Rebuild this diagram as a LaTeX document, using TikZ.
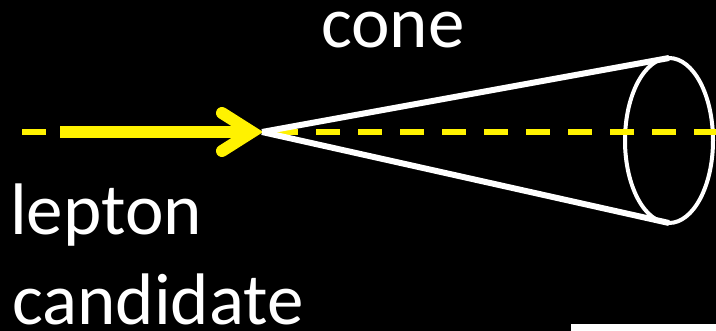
\documentclass[tikz,border=0pt]{standalone}
\usepackage{fontspec}
\setmainfont{Carlito}
\begin{document}
\begin{tikzpicture}[x=1pt,y=-1pt,
  lbl/.style={text=white,inner sep=0pt,anchor=base west,font=\fontsize{73}{89}\selectfont},
  axisline/.style={yellow,line width=6pt,dash pattern=on 24pt off 18pt},
  leptonarrow/.style={yellow,line width=12pt},
  conestroke/.style={white,line width=6pt},
  rimstroke/.style={white,line width=4pt}]
\useasboundingbox (0,0) rectangle (716,331);
\fill[black] (0,0) rectangle (716,331);
% coordinates
\coordinate (axstart) at (22,132);
\coordinate (axend) at (716,132);
\coordinate (tail) at (60,132);
\coordinate (tipin) at (252,132);
\coordinate (barbtop) at (222,113);
\coordinate (barbbot) at (222,151);
\coordinate (apex) at (262,132);
\coordinate (rimtop) at (669,58);
\coordinate (rimbot) at (669,223);
\coordinate (rimc) at (669,140.5);
% cone rim
\draw[rimstroke] (rimc) ellipse [x radius=44, y radius=82.5];
% dashed axis
\draw[axisline] (axstart) -- (axend);
% lepton arrow
\draw[leptonarrow] (tail) -- (tipin);
\draw[leptonarrow,line cap=round,miter limit=10] (barbtop) -- (tipin) -- (barbbot);
% cone sides
\draw[conestroke] (apex) -- (rimtop);
\draw[conestroke] (apex) -- (rimbot);
% labels
\node[lbl] (conelbl) at (321,48) {cone};
\node[lbl] (lepton) at (10,235) {lepton};
\node[lbl] (candidate) at (12,325) {candidate};
% partial box at bottom
\fill[white] (571,324) rectangle (716,331);
\end{tikzpicture}
\end{document}
